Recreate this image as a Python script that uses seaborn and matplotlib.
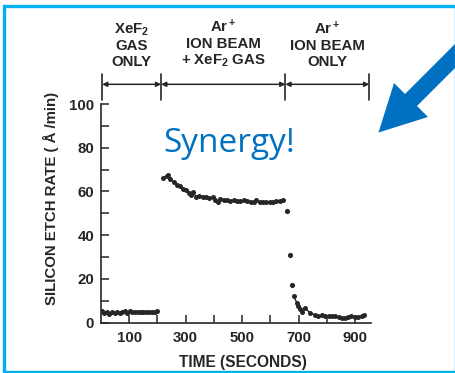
import numpy as np
import pandas as pd
import matplotlib
matplotlib.use("Agg")
import matplotlib.pyplot as plt
import seaborn as sns
from matplotlib.patches import Polygon, Rectangle

# ---------------- data ----------------
t_gas = [3, 12, 21, 30, 39, 48, 57, 66, 75, 84, 93, 102, 111, 120, 130, 140, 150, 160, 170, 180, 190, 199]
r_gas = [5.5, 4.3, 5.0, 4.2, 5.1, 4.5, 4.9, 4.3, 5.0, 5.4, 4.6, 5.2, 4.9, 5.0, 4.7, 5.1, 4.8, 5.0, 4.9, 5.0, 5.1, 5.2]

t_both = [220, 232, 238, 246, 258, 270, 280, 289, 300, 310, 318, 327, 336, 348, 360, 371, 383, 395,
          405, 413, 423, 435, 446, 458, 470, 482, 494, 506, 518, 530, 542, 550, 562, 574, 586, 598,
          610, 621, 633, 645]
r_both = [66.1, 67.2, 67.6, 65.6, 64.3, 63.0, 62.6, 61.2, 60.5, 59.5, 58.2, 59.8, 57.7, 58.0, 57.7,
          57.4, 56.9, 57.3, 56.2, 55.1, 56.5, 56.2, 55.9, 55.7, 55.9, 55.6, 55.7, 55.9, 55.6, 55.4,
          55.0, 55.9, 55.1, 55.0, 55.1, 55.3, 55.4, 55.6, 55.7, 56.2]

t_drop = [658, 670, 675]
r_drop = [51.1, 31.0, 17.3]

t_ion = [683, 693, 699, 705, 711, 723, 740, 758, 770, 782, 794, 806, 818, 830, 842, 854, 863,
         875, 887, 899, 911, 923, 931]
r_ion = [12.2, 9.2, 7.8, 6.1, 5.0, 6.6, 4.6, 3.5, 3.2, 3.4, 3.2, 3.1, 3.2, 2.9, 2.7, 2.3, 2.0,
         2.7, 2.9, 2.7, 2.6, 3.1, 3.4]

phase_edges = [4, 213, 653, 950]
phase_labels = ["XeF$_2$\nGAS\nONLY", "Ar$^+$\nION BEAM\n+ XeF$_2$ GAS", "Ar$^+$\nION BEAM\nONLY"]

x_ticks = [100, 200, 300, 400, 500, 600, 700, 800, 900]
x_ticklabels = ["100", "", "300", "", "500", "", "700", "", "900"]
y_ticks = [0, 10, 20, 30, 40, 50, 60, 70, 80, 90, 100]
y_ticklabels = ["0", "", "20", "", "40", "", "60", "", "80", "", "100"]

# ---------------- style ----------------
sns.set_theme(style="ticks")
plt.rcParams["font.family"] = ["Liberation Sans", "DejaVu Sans"]
plt.rcParams["mathtext.fontset"] = "custom"
plt.rcParams["mathtext.rm"] = "Liberation Sans:bold"
plt.rcParams["mathtext.it"] = "Liberation Sans:bold"
plt.rcParams["mathtext.bf"] = "Liberation Sans:bold"
plt.rcParams["mathtext.default"] = "rm"
ink = "#262626"
fs = 10.8

W, H = 456, 373
fig = plt.figure(figsize=(W / 100, H / 100), dpi=100)
ax = fig.add_axes([101 / W, (H - 322.7) / H, 270.5 / W, 218.7 / H])

segs = [(t_gas, r_gas), (t_both, r_both), (t_ion, r_ion)]
for tt, rr in segs:
    df = pd.DataFrame({"t": tt, "r": rr})
    sns.lineplot(data=df, x="t", y="r", ax=ax, color=ink, lw=1.0, marker="o",
                 markersize=3.6, markeredgewidth=0, sort=False)
sns.scatterplot(x=t_drop, y=r_drop, ax=ax, color=ink, s=14, linewidth=0)

ax.set_xlim(0, 958)
ax.set_ylim(0, 100)
ax.set_xticks(x_ticks)
ax.set_xticklabels(x_ticklabels)
ax.set_yticks(y_ticks)
ax.set_yticklabels(y_ticklabels)
ax.tick_params(direction="in", length=6, width=1.1, color=ink, labelcolor=ink,
               labelsize=fs)
ax.tick_params(axis="x", pad=6)
ax.tick_params(axis="y", pad=5)
for lab in ax.get_xticklabels() + ax.get_yticklabels():
    lab.set_fontweight("bold")
sns.despine(ax=ax)
for sp in ["left", "bottom"]:
    ax.spines[sp].set_linewidth(1.2)
    ax.spines[sp].set_color(ink)

ax.set_xlabel("TIME (SECONDS)", fontsize=11.2, fontweight="bold", color=ink)
ax.set_ylabel("SILICON ETCH RATE ( \u00c5 /min)", fontsize=10.8, fontweight="bold", color=ink)
ax.xaxis.set_label_coords(0.525, -0.148)
ax.yaxis.set_label_coords(-0.155, 0.57)

# phase bars and double arrows above the axes
for x in phase_edges:
    ax.plot([x, x], [102, 113.5], color=ink, lw=1.2, clip_on=False)
for a, b, lab in zip(phase_edges[:-1], phase_edges[1:], phase_labels):
    ax.annotate("", xy=(a, 109), xytext=(b, 109), xycoords="data",
                arrowprops=dict(arrowstyle="<|-|>", color=ink, lw=1.1,
                                mutation_scale=7, shrinkA=0, shrinkB=0),
                annotation_clip=False)
    ax.text((a + b) / 2, 116, lab, ha="center", va="bottom", fontsize=fs,
            fontweight="bold", color=ink, linespacing=1.15, clip_on=False)

# Synergy text
fig.text(163 / W, 1 - 152 / H, "Synergy!", fontsize=24, color="#0070C0",
         family=["Open Sans", "DejaVu Sans"], ha="left", va="baseline")

# big blue arrow (decoration, pixel coordinates)
Bx, By = 411.0, 100.0
ux, uy = 0.7071, -0.7071
nx, ny = 0.7071, 0.7071
hw, sw, hl, tl = 24, 8.5, 46, 90
pts = [
    (Bx - hl * ux, By - hl * uy),
    (Bx + hw * nx, By + hw * ny),
    (Bx + sw * nx, By + sw * ny),
    (Bx + sw * nx + tl * ux, By + sw * ny + tl * uy),
    (Bx - sw * nx + tl * ux, By - sw * ny + tl * uy),
    (Bx - sw * nx, By - sw * ny),
    (Bx - hw * nx, By - hw * ny),
]
pts = [(px, H - py) for px, py in pts]
fig.patches.append(Polygon(pts, closed=True, transform=None, facecolor="#0070C0",
                           edgecolor="none", zorder=5))

# cyan frame
fig.patches.append(Rectangle((4 / W, 1 - 372 / H), 452 / W, 366.5 / H,
                             transform=fig.transFigure, fill=False,
                             edgecolor="#00B0F0", lw=2.4, zorder=6))

fig.savefig("out.png", dpi=100)
